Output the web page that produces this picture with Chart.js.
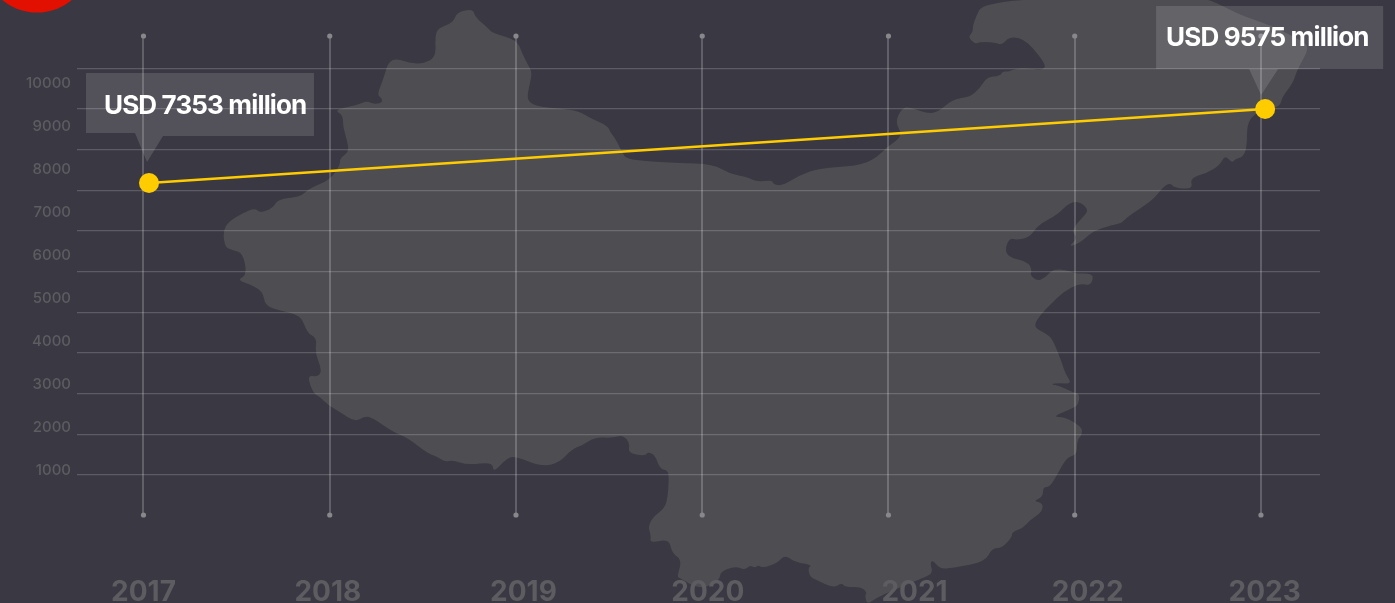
<!DOCTYPE html>
<html><head><meta charset="utf-8">
<script src="https://cdn.jsdelivr.net/npm/chart.js@4"></script>
<style>html,body{margin:0;padding:0;background:#3a3842;overflow:hidden}canvas{display:block}</style>
</head><body><canvas id="c" width="1395" height="603"></canvas>
<script>
const years = [2017, 2023];
const investment = [7353, 9575];
const yearTicks = [2017, 2018, 2019, 2020, 2021, 2022, 2023];
const yearLabelAnchors = [2017.0, 2017.99, 2019.04, 2020.03, 2021.14, 2022.07, 2023.02];
const gridTicks = [0, 1000, 2000, 3000, 4000, 5000, 6000, 7000, 8000, 9000, 10000];
const labelTicks = [1000, 2000, 3000, 4000, 5000, 6000, 7000, 8000, 9000, 10000];
const calloutText = ['USD 7353 million', 'USD 9575 million'];

const mapOutline = [[223,232],[228,222],[243,213],[255,208],[260,213],[273,208],[278,199],[300,197],[310,188],[330,180],[340,165],[340,158],[349,152],[347,140],[343,127],[343,115],[334,110],[357,105],[367,101],[373,104],[382,103],[382,98],[377,95],[383,80],[390,57],[410,63],[423,64],[436,57],[435,37],[438,28],[453,23],[457,12],[473,9],[475,17],[488,28],[492,33],[517,40],[522,53],[528,65],[532,72],[530,83],[527,97],[530,103],[540,107],[577,110],[588,117],[608,126],[610,132],[615,138],[622,152],[627,160],[677,163],[713,164],[730,174],[747,177],[757,182],[772,180],[773,184],[782,186],[800,175],[820,168],[857,166],[875,159],[887,147],[903,136],[895,122],[902,108],[910,107],[925,113],[937,113],[953,99],[970,97],[980,88],[987,77],[1000,76],[1003,71],[1008,72],[1017,68],[1033,69],[1043,70],[1046,65],[1033,48],[1023,39],[1013,37],[1007,39],[1002,45],[993,42],[980,42],[975,44],[968,37],[973,32],[973,23],[985,-2],[1203,-2],[1217,3],[1240,15],[1270,25],[1300,40],[1310,47],[1297,70],[1293,83],[1282,97],[1280,107],[1262,110],[1247,120],[1247,147],[1243,157],[1235,159],[1232,163],[1225,155],[1220,165],[1207,173],[1190,178],[1193,189],[1175,188],[1170,183],[1163,187],[1153,200],[1127,217],[1122,223],[1112,225],[1093,231],[1080,243],[1068,247],[1078,238],[1072,232],[1077,223],[1087,213],[1087,208],[1080,202],[1070,202],[1057,215],[1038,225],[1030,237],[1017,240],[1010,238],[1005,248],[1008,257],[1028,262],[1032,270],[1030,275],[1037,281],[1045,278],[1053,269],[1067,270],[1077,274],[1087,273],[1094,276],[1090,286],[1080,283],[1063,292],[1052,303],[1040,315],[1033,327],[1047,334],[1053,340],[1062,363],[1065,373],[1072,384],[1060,383],[1050,384],[1060,386],[1072,392],[1080,394],[1078,405],[1073,408],[1052,417],[1065,417],[1082,427],[1082,435],[1077,440],[1077,455],[1067,457],[1058,473],[1050,487],[1043,487],[1043,497],[1033,501],[1043,503],[1042,512],[1030,520],[1023,528],[1012,532],[1012,537],[1002,548],[992,548],[985,562],[952,568],[940,569],[933,560],[930,563],[933,573],[923,578],[877,597],[867,605],[865,595],[867,593],[862,587],[845,587],[842,583],[833,588],[817,580],[810,577],[808,568],[812,565],[795,562],[785,555],[777,563],[763,568],[758,565],[755,568],[750,565],[745,570],[735,566],[720,572],[720,580],[700,590],[680,578],[677,577],[682,560],[672,553],[669,539],[650,543],[651,535],[648,527],[653,517],[665,508],[668,495],[669,475],[667,470],[660,469],[655,455],[648,452],[645,456],[628,453],[630,443],[623,435],[612,438],[595,437],[583,445],[572,449],[560,462],[543,467],[517,457],[508,457],[493,473],[493,462],[467,465],[453,460],[445,462],[438,457],[427,453],[408,438],[393,432],[373,418],[365,416],[355,422],[340,412],[328,405],[320,397],[313,393],[307,375],[318,377],[322,370],[315,353],[317,338],[307,333],[301,315],[277,310],[265,305],[263,292],[252,285],[237,280],[247,275],[243,253],[232,250],[225,247]];

const backdrop = {
  id: 'backdrop',
  beforeDraw(chart) {
    const c = chart.ctx, n = mapOutline.length;
    c.save();
    c.fillStyle = '#3a3842';
    c.fillRect(0, 0, chart.width, chart.height);
    c.fillStyle = '#4e4e52';
    c.beginPath();
    const mid = (a, b) => [(a[0] + b[0]) / 2, (a[1] + b[1]) / 2];
    const start = mid(mapOutline[n - 1], mapOutline[0]);
    c.moveTo(start[0], start[1]);
    mapOutline.forEach((p, i) => {
      const m = mid(p, mapOutline[(i + 1) % n]);
      c.quadraticCurveTo(p[0], p[1], m[0], m[1]);
    });
    c.closePath();
    c.fill();
    c.fillStyle = '#e11000';
    c.beginPath();
    c.arc(37, -42, 54.6, 0, Math.PI * 2);
    c.fill();
    c.restore();
  },
  afterDraw(chart) {
    const c = chart.ctx, sx = chart.scales.x, a = chart.chartArea;
    c.save();
    c.fillStyle = '#88878c';
    yearTicks.forEach(y => {
      const px = sx.getPixelForValue(y);
      [a.top, a.bottom].forEach(py => { c.beginPath(); c.arc(px, py, 2.6, 0, Math.PI * 2); c.fill(); });
    });
    const pts = chart.getDatasetMeta(0).data;
    const shapes = [
      { box: [-63, -110, 165, -47], notch: [-14, -2, 14], tip: [-2, -21], text: [-45, -77] },
      { box: [-109, -103, 118, -40], notch: [-16, -4, 13], tip: [-4, -14], text: [-99, -71] }
    ];
    pts.forEach((pt, i) => {
      const s = shapes[i], x = pt.x, y = pt.y, b = s.box;
      c.fillStyle = 'rgba(255,255,255,0.13)';
      c.beginPath();
      c.moveTo(x + b[0], y + b[1]);
      c.lineTo(x + b[2], y + b[1]);
      c.lineTo(x + b[2], y + b[3]);
      c.lineTo(x + s.notch[2], y + b[3]);
      c.lineTo(x + s.tip[0], y + s.tip[1]);
      c.lineTo(x + s.notch[0], y + b[3] - (i === 0 ? 3 : 0));
      c.lineTo(x + b[0], y + b[3] - (i === 0 ? 3 : 0));
      c.closePath();
      c.fill();
      c.fillStyle = '#ffffff';
      c.font = '700 26px Inter';
      c.letterSpacing = '-0.85px';
      c.textBaseline = 'middle';
      c.textAlign = 'left';
      c.fillText(calloutText[i], x + s.text[0], y + s.text[1]);
    });
    c.restore();
  }
};

const setTicks = values => scale => { scale.ticks = values.map(v => ({ value: v })); };

new Chart(document.getElementById('c'), {
  type: 'line',
  plugins: [backdrop],
  data: {
    datasets: [{
      data: years.map((y, i) => ({ x: y, y: investment[i] })),
      xAxisID: 'xData', yAxisID: 'yData',
      borderColor: '#ffcc00', backgroundColor: '#ffcc00', borderWidth: 2.7,
      pointRadius: 10, pointHoverRadius: 10, pointBorderWidth: 0, tension: 0, clip: false
    }]
  },
  options: {
    responsive: false, animation: false,
    layout: { padding: { left: 0, right: 75, top: 36, bottom: 0 } },
    plugins: { legend: { display: false }, tooltip: { enabled: false } },
    scales: {
      x: {
        type: 'linear', position: 'bottom', min: 2016.643, max: 2023.317,
        afterBuildTicks: setTicks(yearTicks), afterFit: s => { s.height = 0; },
        border: { display: false },
        grid: { color: 'rgba(255,255,255,0.2)', lineWidth: 2, drawTicks: false },
        ticks: { display: false }
      },
      xYear: {
        type: 'linear', position: 'bottom', min: 2016.643, max: 2023.317,
        afterBuildTicks: setTicks(yearLabelAnchors), afterFit: s => { s.height = 88; },
        border: { display: false }, grid: { display: false, drawTicks: false },
        ticks: {
          autoSkip: false, maxRotation: 0, padding: 61, color: '#5d5c61',
          font: { family: 'Inter', size: 28, weight: '700' },
          callback: v => String(Math.round(v))
        }
      },
      xData: { type: 'linear', display: false, min: 2016.613, max: 2023.295 },
      yGrid: {
        type: 'linear', position: 'left', min: -984, max: 10799,
        afterBuildTicks: setTicks(gridTicks), afterFit: s => { s.width = 0; },
        border: { display: false },
        grid: { color: 'rgba(255,255,255,0.18)', lineWidth: 1.3, drawTicks: false },
        ticks: { display: false }
      },
      yLabel: {
        type: 'linear', position: 'left', min: -46.5, max: 11093,
        afterBuildTicks: setTicks(labelTicks), afterFit: s => { s.width = 77; },
        border: { display: false }, grid: { display: false, drawTicks: false },
        ticks: {
          autoSkip: false, padding: 6, color: '#5d5c61',
          font: { family: 'Inter', size: 15, weight: '500' },
          callback: v => String(v)
        }
      },
      yData: { type: 'linear', display: false, min: -2617, max: 11767 }
    }
  }
});
</script></body></html>
